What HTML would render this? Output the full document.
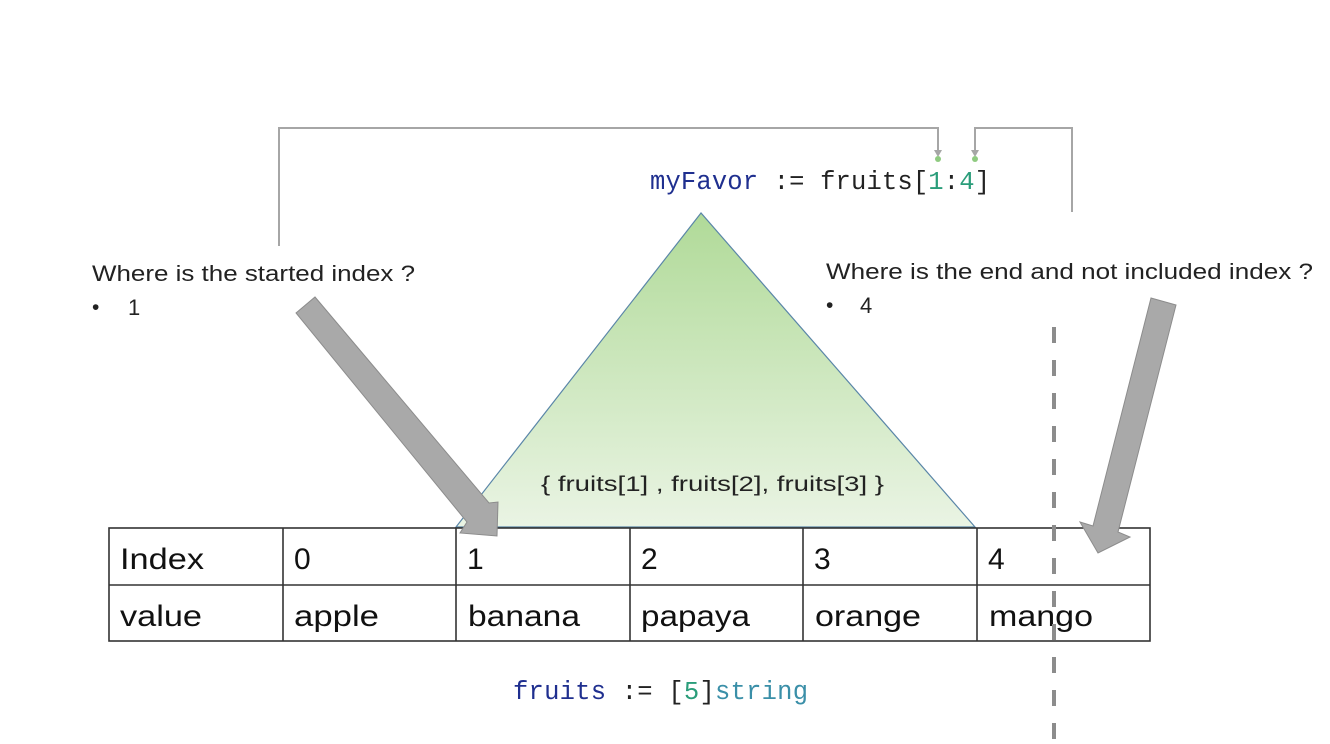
<!DOCTYPE html>
<html><head><meta charset="utf-8"><style>
html,body{margin:0;padding:0;background:#fff;}
svg{display:block}
.s{font-family:"Liberation Sans",sans-serif;}
.m{font-family:"Liberation Mono",monospace;}
</style></head><body>
<svg width="1330" height="744" viewBox="0 0 1330 744" xmlns="http://www.w3.org/2000/svg">
<defs>
<linearGradient id="g" x1="0" y1="0" x2="0" y2="1">
<stop offset="0" stop-color="#b0da98"/>
<stop offset="1" stop-color="#eaf4e4"/>
</linearGradient>
</defs>
<polyline points="279,246 279,128 938,128 938,152" fill="none" stroke="#a6a6a6" stroke-width="2"/>
<polygon points="934,150 942,150 938,157" fill="#a6a6a6"/>
<circle cx="938" cy="159" r="3" fill="#8fca80"/>
<polyline points="1072,212 1072,128 975,128 975,152" fill="none" stroke="#a6a6a6" stroke-width="2"/>
<polygon points="971,150 979,150 975,157" fill="#a6a6a6"/>
<circle cx="975" cy="159" r="3" fill="#8fca80"/>
<polygon points="701,213 456,527 975,527" fill="url(#g)" stroke="#5a86a8" stroke-width="1.2"/>
<text x="541" y="491" class="s" font-size="21" fill="#222" textLength="343" lengthAdjust="spacingAndGlyphs">{ fruits[1] , fruits[2], fruits[3] }</text>
<text x="650" y="189" class="m" font-size="25.5" fill="#222" textLength="340"><tspan fill="#1f2f8f">myFavor</tspan> := fruits[<tspan fill="#2a9d7a">1</tspan>:<tspan fill="#2a9d7a">4</tspan>]</text>
<text x="513" y="699" class="m" font-size="25.5" fill="#222" textLength="295"><tspan fill="#1f2f8f">fruits</tspan> := [<tspan fill="#2a9d7a">5</tspan>]<tspan fill="#3a8fa8">string</tspan></text>
<text x="92" y="281" class="s" font-size="22" fill="#222" textLength="323" lengthAdjust="spacingAndGlyphs">Where is the started index ?</text>
<text x="92" y="314" class="s" font-size="21" fill="#222">•</text>
<text x="128" y="315" class="s" font-size="22" fill="#222">1</text>
<text x="826" y="279" class="s" font-size="22" fill="#222" textLength="487" lengthAdjust="spacingAndGlyphs">Where is the end and not included index ?</text>
<text x="826" y="312" class="s" font-size="21" fill="#222">•</text>
<text x="860" y="313" class="s" font-size="22" fill="#222">4</text>
<g stroke="#333" stroke-width="1.6" fill="none">
<rect x="109" y="528" width="1041" height="113"/>
<line x1="109" y1="585" x2="1150" y2="585"/>
<line x1="283" y1="528" x2="283" y2="641"/>
<line x1="456" y1="528" x2="456" y2="641"/>
<line x1="630" y1="528" x2="630" y2="641"/>
<line x1="803" y1="528" x2="803" y2="641"/>
<line x1="977" y1="528" x2="977" y2="641"/>
</g>
<g class="s" font-size="30" fill="#111">
<text x="120" y="569" textLength="84" lengthAdjust="spacingAndGlyphs">Index</text><text x="294" y="569">0</text><text x="467" y="569">1</text><text x="641" y="569">2</text><text x="814" y="569">3</text><text x="988" y="569">4</text>
<text x="120" y="626" textLength="82" lengthAdjust="spacingAndGlyphs">value</text><text x="294" y="626" textLength="85" lengthAdjust="spacingAndGlyphs">apple</text><text x="468" y="626" textLength="112" lengthAdjust="spacingAndGlyphs">banana</text><text x="641" y="626" textLength="109" lengthAdjust="spacingAndGlyphs">papaya</text><text x="815" y="626" textLength="106" lengthAdjust="spacingAndGlyphs">orange</text><text x="989" y="626" textLength="104" lengthAdjust="spacingAndGlyphs">mango</text>
</g>
<line x1="1054" y1="327" x2="1054" y2="744" stroke="#8c8c8c" stroke-width="4" stroke-dasharray="16,17"/>
<polygon points="296,313 315,297 489,503 498,502 497,536 460,533 467,522" fill="#a9a9a9" stroke="#8c8c8c" stroke-width="1"/>
<polygon points="1151,298 1176,305 1118,532 1130,537 1098,553 1080,522 1093,526" fill="#a9a9a9" stroke="#8c8c8c" stroke-width="1"/>
</svg>
</body></html>
